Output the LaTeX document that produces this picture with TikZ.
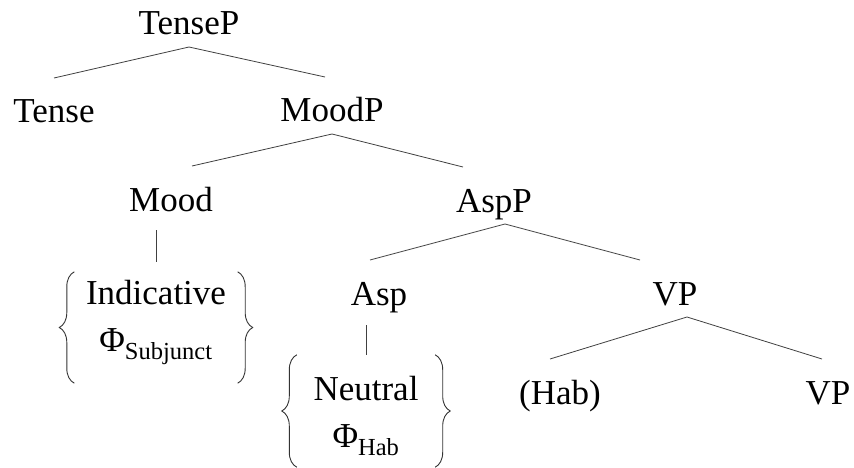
\documentclass[tikz,border=0pt]{standalone}
\usepackage{fontspec}
\setmainfont{Liberation Serif}
\usetikzlibrary{decorations.pathreplacing}
\tikzset{
	cat/.style = {anchor=base, inner sep=0pt, outer xsep=0pt, outer ysep=12pt, text height=33pt, text depth=0pt, font=\fontsize{35}{47}\selectfont},
	feat/.style = {inner sep=0pt, align=center, font=\fontsize{35}{47}\selectfont},
	branch/.style = {draw=black!75, line width=0.8pt},
	curly/.style = {draw=black!80, line width=0.9pt, decorate, decoration={brace, amplitude=15pt}}
}

\begin{document}
\begin{tikzpicture}[x=1pt, y=-1pt]
	\useasboundingbox (0,0) rectangle (854,468);

	% phrase nodes
	\node (tensep) [cat] at (189,35) {TenseP};
	\node (tense) [cat] at (54,123) {Tense};
	\node (moodp) [cat] at (332,122) {MoodP};
	\node (mood) [cat] at (171,211) {Mood};
	\node (aspp) [cat] at (494,212) {AspP};
	\node (asp) [cat] at (379,305) {Asp};
	\node (vp) [cat] at (675,305) {VP};
	\node (hab) [cat] at (560,404) {(Hab)};
	\node (vpb) [cat] at (828,404) {VP};

	% feature bundles (struts only move the text inside the braces)
	\node (ind) [feat, minimum width=163pt, minimum height=111pt] at (156,327.5) {Indicative\\Φ\textsubscript{Subjunct}\rule[-24pt]{0pt}{0pt}};
	\node (neu) [feat, minimum width=138pt, minimum height=112pt] at (366,411) {\rule{0pt}{34pt}Neutral\\Φ\textsubscript{Hab}};

	%%% branches %%%
	\draw [branch] (tensep.south) -- (tense.north);
	\draw [branch] (tensep.south) -- ([xshift=-7pt]moodp.north);
	\draw [branch] (moodp.south) -- ([xshift=21pt]mood.north);
	\draw [branch] (moodp.south) -- ([xshift=-31pt]aspp.north);
	\draw [branch] ([xshift=11pt]aspp.south) -- ([xshift=-9pt]asp.north);
	\draw [branch] ([xshift=11pt]aspp.south) -- ([xshift=-35pt]vp.north);
	\draw [branch] ([xshift=12pt]vp.south) -- ([xshift=-10pt]hab.north);
	\draw [branch] ([xshift=12pt]vp.south) -- ([xshift=-6pt]vpb.north);
	\draw [branch, shorten <=7pt, shorten >=10pt] (ind.north |- mood.south) -- (ind.north);
	\draw [branch, shorten <=8pt] (neu.north |- asp.south) -- (neu.north);

	% braces
	\draw [curly] (ind.south west) -- (ind.north west);
	\draw [curly] (ind.north east) -- (ind.south east);
	\draw [curly] (neu.south west) -- (neu.north west);
	\draw [curly] (neu.north east) -- (neu.south east);
\end{tikzpicture}
\end{document}
